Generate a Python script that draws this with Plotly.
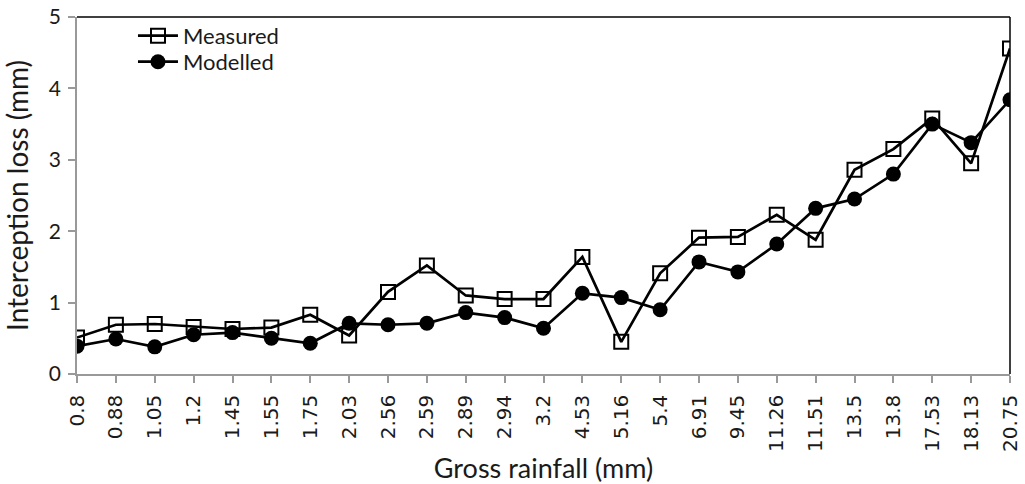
import plotly.graph_objects as go

rainfall = ["0.8", "0.88", "1.05", "1.2", "1.45", "1.55", "1.75", "2.03", "2.56", "2.59",
            "2.89", "2.94", "3.2", "4.53", "5.16", "5.4", "6.91", "9.45", "11.26", "11.51",
            "13.5", "13.8", "17.53", "18.13", "20.75"]
measured = [0.51, 0.69, 0.70, 0.66, 0.63, 0.65, 0.83, 0.54, 1.15, 1.52,
            1.10, 1.05, 1.05, 1.64, 0.45, 1.41, 1.91, 1.92, 2.23, 1.88,
            2.86, 3.15, 3.58, 2.95, 4.56]
modelled = [0.39, 0.49, 0.38, 0.55, 0.58, 0.50, 0.43, 0.71, 0.69, 0.71,
            0.86, 0.79, 0.64, 1.13, 1.07, 0.90, 1.57, 1.43, 1.82, 2.32,
            2.45, 2.80, 3.50, 3.24, 3.84]
y_ticks = [0, 1, 2, 3, 4, 5]

FONT = "Lato, 'Open Sans', sans-serif"
TXT = "#1a1a1a"

fig = go.Figure()
fig.add_trace(go.Scatter(
    x=rainfall, y=measured, name="Measured", mode="lines+markers", legend="legend",
    line=dict(color="black", width=2.7),
    marker=dict(symbol="square-open", size=14, color="black", line=dict(width=2, color="black")),
))
fig.add_trace(go.Scatter(
    x=rainfall, y=modelled, name="Modelled", mode="lines+markers", legend="legend2",
    line=dict(color="black", width=2.7),
    marker=dict(symbol="circle", size=15, color="black"),
))

# top and right black frame
fig.add_shape(type="line", xref="x domain", yref="y domain", x0=0, x1=1, y0=1, y1=1,
              line=dict(color="black", width=1.5))
fig.add_shape(type="line", xref="x domain", yref="y domain", x0=1, x1=1, y0=0, y1=1,
              line=dict(color="black", width=1.5))

legend_style = dict(xanchor="left", yanchor="top", bgcolor="rgba(0,0,0,0)",
                    font=dict(size=22, color=TXT), itemwidth=40)

fig.update_layout(
    width=1025, height=484,
    margin=dict(l=77, r=15, t=17, b=110, autoexpand=False),
    paper_bgcolor="white", plot_bgcolor="white",
    font=dict(family=FONT, color=TXT),
    showlegend=True,
    legend=dict(x=0.06, y=1.006, **legend_style),
    legend2=dict(x=0.06, y=0.933, **legend_style),
    xaxis=dict(
        type="category", range=[0, len(rainfall) - 1], automargin=False,
        tickangle=-90, tickfont=dict(size=20, family="DejaVu Sans", color=TXT),
        showline=True, linecolor="#999", linewidth=1.5,
        ticks="outside", tickcolor="#999", ticklen=7, tickwidth=1.5,
        ticklabelstandoff=4, ticklabeloverflow="allow",
        showgrid=False, zeroline=False,
        title=dict(text="Gross rainfall (mm)", font=dict(size=27, color=TXT), standoff=12),
    ),
    yaxis=dict(
        range=[0, 5], tickvals=y_ticks, automargin=False,
        tickfont=dict(size=21, color=TXT),
        showline=True, linecolor="#999", linewidth=1.5,
        ticks="outside", tickcolor="#999", ticklen=7, tickwidth=1.5,
        ticklabelstandoff=3, ticklabeloverflow="allow",
        showgrid=False, zeroline=False,
        title=dict(text="Interception loss (mm)", font=dict(size=28, color=TXT), standoff=30),
    ),
)

# remove the default page margin so the figure fills the 1025x484 window exactly
fig.write_html("out.html",
               config={"displayModeBar": False},
               post_script="document.body.style.margin='0';document.body.style.overflow='hidden';")
